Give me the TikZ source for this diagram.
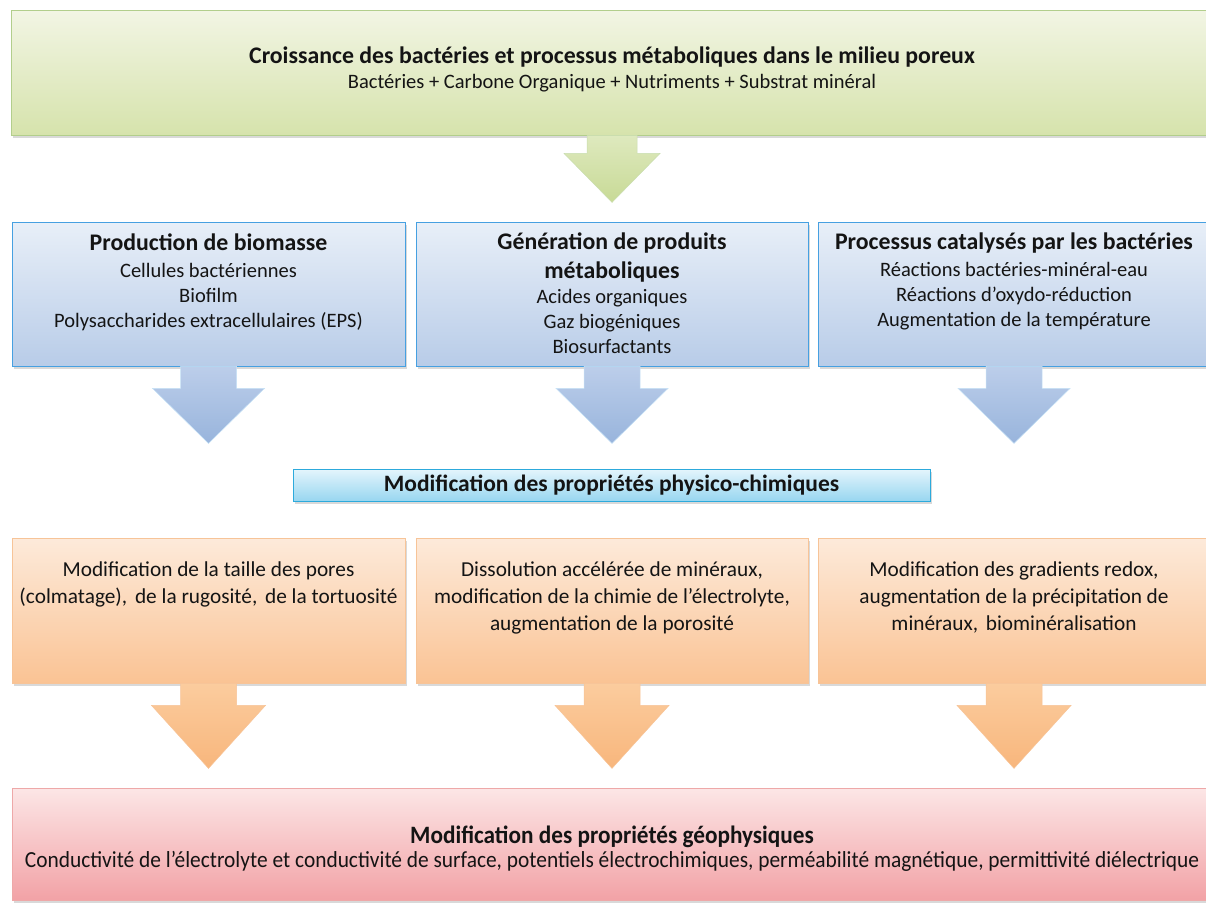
\documentclass[tikz,border=0pt]{standalone}
\usepackage{fontspec}
\setmainfont{Carlito}
\usetikzlibrary{positioning,calc,shadows}

\definecolor{grnTop}{RGB}{242,245,228}
\definecolor{grnBot}{RGB}{214,227,172}
\definecolor{grnLine}{RGB}{178,206,140}
\definecolor{bluTop}{RGB}{232,239,248}
\definecolor{bluBot}{RGB}{184,204,232}
\definecolor{bluLine}{RGB}{70,160,225}
\definecolor{cyaTop}{RGB}{228,245,252}
\definecolor{cyaBot}{RGB}{152,214,240}
\definecolor{cyaLine}{RGB}{45,170,220}
\definecolor{orgTop}{RGB}{253,234,218}
\definecolor{orgBot}{RGB}{250,195,148}
\definecolor{orgLine}{RGB}{247,196,152}
\definecolor{redTop}{RGB}{252,230,230}
\definecolor{redBot}{RGB}{242,162,166}
\definecolor{redLine}{RGB}{238,168,168}
\definecolor{txt}{RGB}{20,20,20}

% block arrow under a box: node, stem half width, head half width, stem length, total length, style
\newcommand{\blkarrow}[6]{%
  \shade[#6] ($(#1.south)+(-#2,0)$) -- ($(#1.south)+(-#2,#4)$) -- ($(#1.south)+(-#3,#4)$)
    -- ($(#1.south)+(0,#5)$) -- ($(#1.south)+(#3,#4)$) -- ($(#1.south)+(#2,#4)$)
    -- ($(#1.south)+(#2,0)$) -- cycle;}

\begin{document}
\begin{tikzpicture}[x=1pt,y=-1pt,
    box/.style={rectangle, inner sep=0pt, line width=0.8pt,
      drop shadow={shadow xshift=1.5pt,shadow yshift=-2.5pt,opacity=0.3}},
    greenbox/.style={box, draw=grnLine, top color=grnTop, bottom color=grnBot},
    bluebox/.style={box, draw=bluLine, top color=bluTop, bottom color=bluBot},
    cyanbox/.style={box, draw=cyaLine, top color=cyaTop, bottom color=cyaBot},
    orangebox/.style={box, draw=orgLine, top color=orgTop, bottom color=orgBot},
    redbox/.style={box, draw=redLine, top color=redTop, bottom color=redBot},
    greenarr/.style={top color={rgb,255:red,222;green,233;blue,190}, bottom color={rgb,255:red,200;green,218;blue,150}, draw=grnLine!70, line width=0.5pt},
    bluearr/.style={top color={rgb,255:red,188;green,206;blue,234}, bottom color={rgb,255:red,152;green,180;blue,220}, draw=bluLine!30, line width=0.5pt},
    orangearr/.style={top color={rgb,255:red,251;green,204;blue,158}, bottom color={rgb,255:red,248;green,182;blue,124}, draw=orgLine, line width=0.5pt},
    ttl/.style={inner sep=0pt, align=center, text=txt, font=\bfseries\fontsize{23.8}{29}\selectfont},
    body/.style={inner sep=0pt, align=center, text=txt, font=\fontsize{20.5}{25}\selectfont},
    obody/.style={inner sep=0pt, align=center, text=txt, font=\fontsize{21.3}{27}\selectfont}]
\useasboundingbox (0,0) rectangle (1206,908);

% top box
\node[greenbox, minimum width=1202pt, minimum height=125pt] (top) at (612,72.5) {};
\node[ttl] (toptitle) at ([yshift=-47pt]top.north) {Croissance des bactéries et processus métaboliques dans le milieu poreux};
\node[body] at ([yshift=-74pt]top.north) {Bactéries + Carbone Organique + Nutriments + Substrat minéral};
\blkarrow{top}{25}{48}{18}{67}{greenarr}

% three blue boxes
\node[bluebox, minimum width=393pt, minimum height=144pt] (b1) at (208.5,294) {};
\node[bluebox, minimum width=392pt, minimum height=144pt] (b2) at (612,294) {};
\node[bluebox, minimum width=392pt, minimum height=144pt] (b3) at (1014,294) {};
\node[ttl] (t1) at ([yshift=-21pt]b1.north) {Production de biomasse};
\node[body] at ([yshift=-75pt]b1.north) {Cellules bactériennes\\Biofilm\\Polysaccharides extracellulaires (EPS)};
\node[ttl] (t2) at ([yshift=-35.5pt]b2.north) {Génération de produits\\métaboliques};
\node[body] at ([yshift=-100pt]b2.north) {Acides organiques\\Gaz biogéniques\\Biosurfactants};
\node[ttl] (t3) at ([yshift=-21pt]b3.north) {Processus catalysés par les bactéries};
\node[body] at ([yshift=-75pt]b3.north) {Réactions bactéries-minéral-eau\\Réactions d’oxydo-réduction\\Augmentation de la température};
\blkarrow{b1}{28}{56}{22}{77}{bluearr}
\blkarrow{b2}{28}{56}{22}{77}{bluearr}
\blkarrow{b3}{28}{56}{22}{77}{bluearr}

% middle bar
\node[cyanbox, minimum width=637pt, minimum height=32pt, ttl, font=\bfseries\fontsize{23.5}{29}\selectfont] (mid) at (611.5,485) {Modification des propriétés physico-chimiques};

% three orange boxes
\node[orangebox, minimum width=393pt, minimum height=145pt] (o1) at (208.5,610.5) {};
\node[orangebox, minimum width=392pt, minimum height=145pt] (o2) at (612,610.5) {};
\node[orangebox, minimum width=392pt, minimum height=145pt] (o3) at (1014,610.5) {};
\node[obody] at ([yshift=-46.5pt]o1.north) {Modification de la taille des pores\\(colmatage),\hspace{3pt} de la rugosité,\hspace{3pt} de la tortuosité};
\node[obody] at ([yshift=-60pt]o2.north) {Dissolution accélérée de minéraux,\\modification de la chimie de l’électrolyte,\\augmentation de la porosité};
\node[obody] at ([yshift=-60pt]o3.north) {Modification des gradients redox,\\augmentation de la précipitation de\\minéraux,\hspace{3pt} biominéralisation};
\blkarrow{o1}{28}{57}{22}{85}{orangearr}
\blkarrow{o2}{28}{57}{22}{85}{orangearr}
\blkarrow{o3}{28}{57}{22}{85}{orangearr}

% bottom box
\node[redbox, minimum width=1200pt, minimum height=112pt] (geo) at (612,844) {};
\node[ttl, font=\bfseries\fontsize{25}{29}\selectfont] (geotitle) at ([yshift=-49pt]geo.north) {\scalebox{0.93}[1]{Modification des propriétés géophysiques}};
\node[body, font=\fontsize{23}{25}\selectfont] at ([yshift=-74pt]geo.north) {\scalebox{0.93}[1]{Conductivité de l’électrolyte et conductivité de surface, potentiels électrochimiques, perméabilité magnétique, permittivité diélectrique}};
\end{tikzpicture}
\end{document}
